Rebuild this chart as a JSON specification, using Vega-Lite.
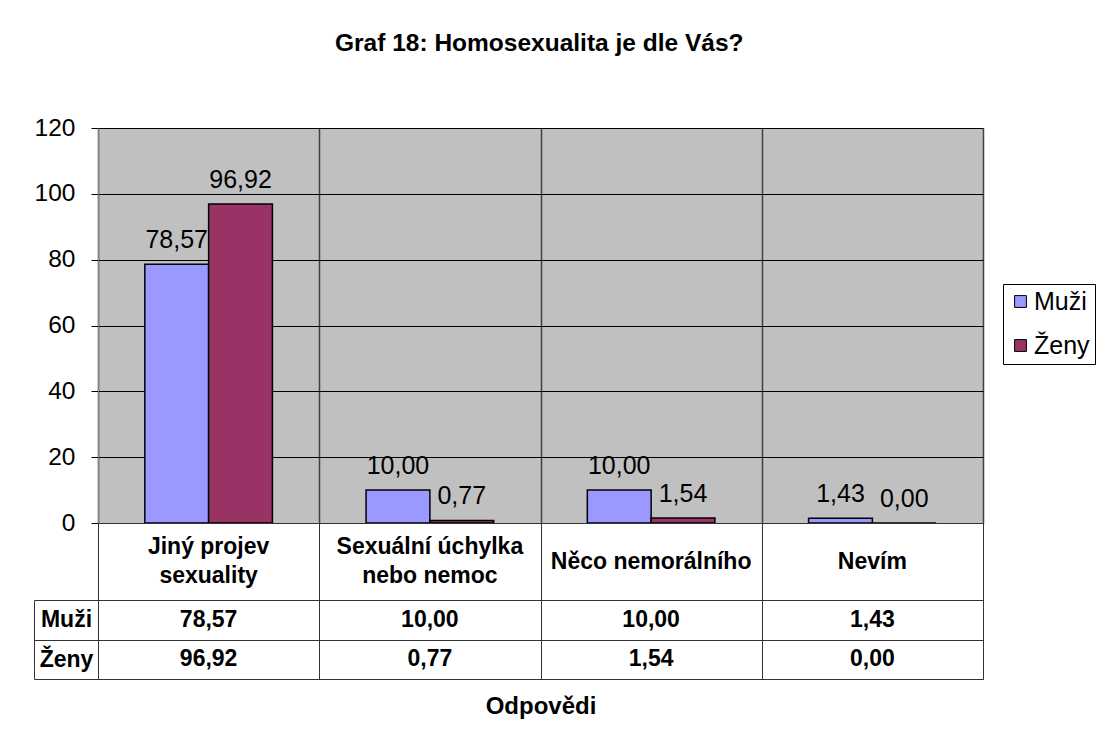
{
  "$schema": "https://vega.github.io/schema/vega-lite/v6.json",
  "background": "white",
  "padding": {"left": 33, "top": 31, "right": 0, "bottom": 0},
  "config": {
    "locale": {"number": {"decimal": ",", "thousands": " ", "grouping": [3], "currency": ["", " Kč"]}},
    "font": "Liberation Sans",
    "view": {"stroke": null},
    "concat": {"spacing": 0}
  },
  "title": {"text": "Graf 18: Homosexualita je dle Vás?", "fontSize": 24.5, "fontWeight": "bold", "font": "Liberation Sans", "anchor": "middle", "offset": 58, "dx": -25, "color": "black"},
  "datasets": {
    "t": [
      {"cat": "Jiný projev\nsexuality", "series": "Muži", "value": 78.57},
      {"cat": "Jiný projev\nsexuality", "series": "Ženy", "value": 96.92},
      {"cat": "Sexuální úchylka\nnebo nemoc", "series": "Muži", "value": 10.00},
      {"cat": "Sexuální úchylka\nnebo nemoc", "series": "Ženy", "value": 0.77},
      {"cat": "Něco nemorálního", "series": "Muži", "value": 10.00},
      {"cat": "Něco nemorálního", "series": "Ženy", "value": 1.54},
      {"cat": "Nevím", "series": "Muži", "value": 1.43},
      {"cat": "Nevím", "series": "Ženy", "value": 0.00}
    ]
  },
  "spacing": 0,
  "bounds": "flush",
  "vconcat": [
    {
      "width": 885,
      "height": 395,
      "data": {"name": "t"},
      "view": {"fill": "#C0C0C0", "stroke": "#808080"},
      "encoding": {
        "x": {
          "field": "cat", "type": "nominal",
          "sort": ["Jiný projev\nsexuality", "Sexuální úchylka\nnebo nemoc", "Něco nemorálního", "Nevím"],
          "scale": {"paddingInner": 0, "paddingOuter": 0},
          "axis": {"title": null, "labels": false, "ticks": false, "domain": false, "grid": true, "tickBand": "extent", "gridColor": "#404040", "gridWidth": 1.5, "gridOpacity": 1}
        },
        "xOffset": {"field": "series", "type": "nominal", "sort": ["Muži", "Ženy"], "scale": {"paddingInner": 0, "paddingOuter": 0.734}},
        "y": {
          "field": "value", "type": "quantitative",
          "scale": {"domain": [0, 120], "nice": false},
          "axis": {"values": [0, 20, 40, 60, 80, 100, 120], "title": null, "grid": true, "gridColor": "black", "gridOpacity": 1, "domain": true, "domainColor": "#808080", "tickColor": "black", "tickSize": 7, "labelFontSize": 24.5, "labelColor": "black", "labelPadding": 16, "labelFont": "Liberation Sans"}
        }
      },
      "layer": [
        {
          "mark": {"type": "bar", "stroke": "black", "strokeWidth": 1.5},
          "encoding": {
            "color": {
              "field": "series", "type": "nominal",
              "scale": {"domain": ["Muži", "Ženy"], "range": ["#9999FF", "#993366"]},
              "legend": {"title": null, "orient": "none", "legendX": 905, "legendY": 156, "symbolType": "square", "symbolSize": 140, "symbolStrokeColor": "black", "symbolStrokeWidth": 1, "symbolOpacity": 1, "symbolOffset": 0, "labelFontSize": 25, "labelFont": "Liberation Sans", "labelColor": "black", "strokeColor": "black", "fillColor": "white", "padding": 5, "rowPadding": 18, "labelOffset": 1}
            }
          }
        },
        {
          "mark": {"type": "text", "baseline": "alphabetic", "dy": -16, "fontSize": 25, "color": "black", "font": "Liberation Sans"},
          "encoding": {"text": {"field": "value", "type": "quantitative", "format": ".2f"}}
        }
      ]
    },
    {
      "width": 885,
      "height": 77,
      "data": {"name": "t"},
      "transform": [{"filter": "datum.series === 'Muži'"}],
      "view": {"stroke": "#333333", "fill": "white"},
      "encoding": {
        "x": {
          "field": "cat", "type": "nominal",
          "sort": ["Jiný projev\nsexuality", "Sexuální úchylka\nnebo nemoc", "Něco nemorálního", "Nevím"],
          "scale": {"paddingInner": 0, "paddingOuter": 0},
          "axis": {"title": null, "labels": false, "ticks": false, "domain": false, "grid": true, "tickBand": "extent", "gridColor": "#333333", "gridOpacity": 1}
        },
        "text": {"field": "cat", "type": "nominal"}
      },
      "layer": [
        {
          "transform": [{"filter": "!test(/\\n/, datum.cat)"}],
          "mark": {"type": "text", "fontSize": 23, "fontWeight": "bold", "baseline": "middle", "color": "black", "font": "Liberation Sans"}
        },
        {
          "transform": [{"filter": "test(/\\n/, datum.cat)"}],
          "mark": {"type": "text", "fontSize": 23, "fontWeight": "bold", "lineBreak": "\n", "lineHeight": 29, "baseline": "middle", "dy": -15, "color": "black", "font": "Liberation Sans"}
        }
      ]
    },
    {
      "width": 885,
      "height": 79,
      "data": {"name": "t"},
      "view": {"stroke": "#333333", "fill": "white"},
      "mark": {"type": "text", "fontSize": 23, "fontWeight": "bold", "color": "black", "baseline": "middle", "font": "Liberation Sans"},
      "encoding": {
        "x": {
          "field": "cat", "type": "nominal",
          "sort": ["Jiný projev\nsexuality", "Sexuální úchylka\nnebo nemoc", "Něco nemorálního", "Nevím"],
          "scale": {"paddingInner": 0, "paddingOuter": 0},
          "axis": {"orient": "bottom", "title": "Odpovědi", "titleFontSize": 24, "titleFontWeight": "bold", "titleColor": "black", "titleFont": "Liberation Sans", "titlePadding": 15, "labels": false, "ticks": false, "domain": false, "grid": true, "tickBand": "extent", "gridColor": "#333333", "gridOpacity": 1}
        },
        "y": {
          "field": "series", "type": "nominal", "sort": ["Muži", "Ženy"],
          "scale": {"paddingInner": 0, "paddingOuter": 0},
          "axis": {"title": null, "offset": 64, "domain": true, "domainColor": "#333333", "ticks": true, "tickSize": -64, "tickBand": "extent", "tickColor": "#333333", "labelAlign": "center", "labelPadding": 32, "labelFontSize": 23, "labelFontWeight": "bold", "labelColor": "black", "labelFont": "Liberation Sans", "grid": true, "gridColor": "#333333", "gridOpacity": 1}
        },
        "text": {"field": "value", "type": "quantitative", "format": ".2f"}
      }
    }
  ]
}
